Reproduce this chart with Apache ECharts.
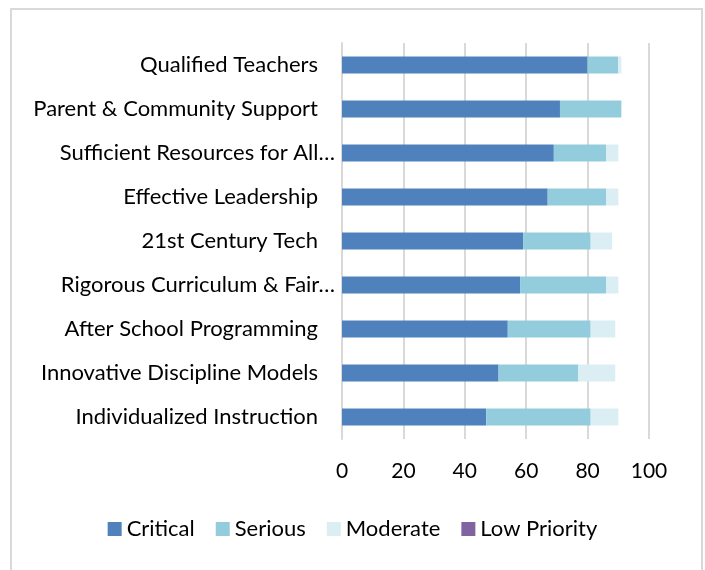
<!DOCTYPE html>
<html>
<head>
<meta charset="utf-8">
<script src="https://cdn.jsdelivr.net/npm/echarts@6/dist/echarts.min.js"></script>
<style>html,body{margin:0;padding:0;background:#fff;}#c{width:705px;height:570px;}</style>
</head>
<body>
<div id="c"></div>
<script>
var categories = ["Qualified Teachers", "Parent & Community Support", "Sufficient Resources for All…", "Effective Leadership", "21st Century Tech", "Rigorous Curriculum & Fair…", "After School Programming", "Innovative Discipline Models", "Individualized Instruction"];
var critical = [80, 71, 69, 67, 59, 58, 54, 51, 47];
var serious = [10, 20, 17, 19, 22, 28, 27, 26, 34];
var moderate = [1, 0, 4, 4, 7, 4, 8, 12, 9];
var lowPriority = [0, 0, 0, 0, 0, 0, 0, 0, 0];
var xTicks = [0, 20, 40, 60, 80, 100];

var FONT = 'Lato';
var chart = echarts.init(document.getElementById('c'), null, {renderer: 'canvas'});
function mk(name, data, color) {
  return {name: name, type: 'bar', stack: 'total', data: data, barWidth: 17,
    itemStyle: {color: color}, emphasis: {disabled: true}};
}
chart.setOption({
  animation: false,
  textStyle: {fontFamily: FONT},
  graphic: [{type: 'rect', shape: {x: 11, y: 9, width: 691, height: 620},
    style: {fill: 'none', stroke: '#D9D9D9', lineWidth: 2}, silent: true}],
  grid: {left: 342, right: 56, top: 43, bottom: 131, containLabel: false},
  xAxis: {type: 'value', min: xTicks[0], max: xTicks[xTicks.length - 1], interval: 20,
    axisLine: {show: false}, axisTick: {show: false},
    splitLine: {lineStyle: {color: '#D9D9D9', width: 2}},
    axisLabel: {color: '#000', fontSize: 21, fontFamily: FONT, margin: 22}},
  yAxis: {type: 'category', data: categories, inverse: true,
    axisLine: {lineStyle: {color: '#D9D9D9', width: 2}}, axisTick: {show: false},
    axisLabel: {color: '#000', fontSize: 22, fontFamily: FONT, margin: 7,
      formatter: function (v) { return v.indexOf('…') >= 0 ? '{e|' + v + '}' : '{n|' + v + '}'; },
      rich: {n: {fontSize: 22, fontFamily: FONT, color: '#000', padding: [0, 17, 0, 0]},
             e: {fontSize: 22, fontFamily: FONT, color: '#000'}}}},
  legend: {bottom: 25, left: 'center', itemWidth: 14, itemHeight: 14, itemGap: 21,
    icon: 'rect', textStyle: {fontSize: 22, fontFamily: FONT, color: '#000'},
    data: ['Critical', 'Serious', 'Moderate', 'Low Priority']},
  series: [mk('Critical', critical, '#4F81BD'), mk('Serious', serious, '#93CDDD'),
    mk('Moderate', moderate, '#DBEEF4'), mk('Low Priority', lowPriority, '#8064A2')]
});
</script>
</body>
</html>
